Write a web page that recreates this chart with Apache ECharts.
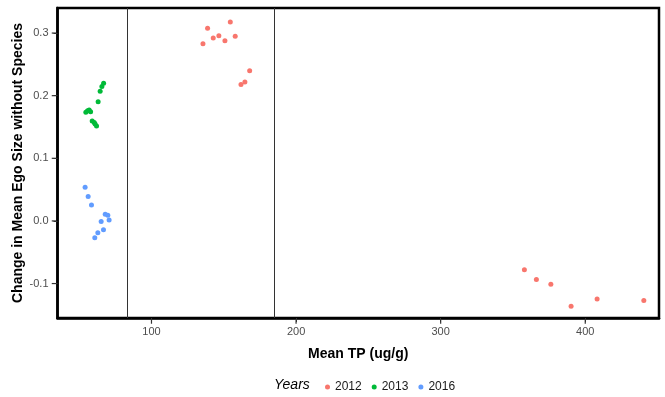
<!DOCTYPE html>
<html><head><meta charset="utf-8">
<script src="https://cdn.jsdelivr.net/npm/echarts@6/dist/echarts.min.js"></script>
<style>html,body{margin:0;padding:0;background:#fff}#c{width:665px;height:397px}</style>
</head><body><div id="c"></div>
<script>
const years = ['2012', '2013', '2016'];
const colors = ['#F8766D', '#00BA38', '#619CFF'];
const tp2012 = [135.6, 138.8, 142.7, 146.6, 150.8, 154.5, 157.9, 161.9, 164.6, 167.9, 357.9, 366.2, 376.2, 390.2, 408.2, 440.5];
const ego2012 = [0.283, 0.3076, 0.292, 0.2958, 0.2877, 0.3177, 0.2947, 0.2179, 0.2217, 0.240, -0.0778, -0.0934, -0.101, -0.1364, -0.1245, -0.1272];
const tp2013 = [54.6, 55.8, 56.9, 57.9, 59.0, 60.4, 61.0, 62.0, 63.1, 64.5, 65.7, 66.9];
const ego2013 = [0.1734, 0.176, 0.177, 0.1744, 0.1594, 0.157, 0.1546, 0.1514, 0.1905, 0.207, 0.2147, 0.220];
const tp2016 = [54.1, 56.2, 58.5, 68.0, 69.8, 70.7, 65.2, 66.8, 62.9, 60.8];
const ego2016 = [0.0536, 0.039, 0.0253, 0.0108, 0.0092, 0.0016, -0.001, -0.014, -0.019, -0.027];
const xTicks = [100, 200, 300, 400];
const yTicks = [-0.1, 0.0, 0.1, 0.2, 0.3];
const vLines = [83, 185];

const zip = (a, b) => a.map((v, i) => [v, b[i]]);
const seriesData = [zip(tp2012, ego2012), zip(tp2013, ego2013), zip(tp2016, ego2016)];

const chart = echarts.init(document.getElementById('c'), null, {renderer: 'canvas'});
const font = 'Liberation Sans, Arial, sans-serif';
const xMin = 35, xMax = 451, yMin = -0.155, yMax = 0.34;
const series = years.map((y, i) => ({
  name: y, type: 'scatter', symbolSize: 5, data: seriesData[i],
  itemStyle: {color: colors[i], opacity: 1}, z: 3
}));
series.push({
  type: 'line', data: [], silent: true,
  markLine: {
    silent: true, symbol: 'none', label: {show: false},
    lineStyle: {color: '#333', width: 1, type: 'solid'},
    data: vLines.map(v => ({xAxis: v}))
  }
});
// axis tick marks, placed by the chart's own scales (outside the panel)
series.push({
  type: 'scatter', silent: true, clip: false, z: 20, symbol: 'rect',
  symbolSize: [1.2, 4.5], symbolOffset: [0, 3.5],
  itemStyle: {color: '#333', opacity: 1},
  data: xTicks.map(v => [v, yMin])
});
series.push({
  type: 'scatter', silent: true, clip: false, z: 20, symbol: 'rect',
  symbolSize: [4.5, 1.2], symbolOffset: [-3.5, 0],
  itemStyle: {color: '#333', opacity: 1},
  data: yTicks.map(v => [xMin, v])
});
chart.setOption({
  animation: false,
  backgroundColor: '#fff',
  textStyle: {fontFamily: font},
  grid: {left: 57.5, right: 6, top: 8, bottom: 79, show: true, borderColor: '#000', borderWidth: 2.5,
    backgroundColor: '#fff', containLabel: false, outerBoundsMode: 'none'},
  xAxis: {
    type: 'value', min: xMin, max: xMax, splitNumber: 5,
    name: 'Mean TP (ug/g)', nameLocation: 'middle', nameGap: 29, nameMoveOverlap: false,
    nameTextStyle: {fontFamily: font, fontSize: 14, fontWeight: 'bold', color: '#000'},
    axisLine: {show: true, onZero: false, lineStyle: {color: '#000', width: 2.5}},
    axisTick: {show: true, interval: 0, length: 4, lineStyle: {color: '#333', width: 1}},
    axisLabel: {fontFamily: font, fontSize: 11, color: '#4D4D4D', margin: 8, interval: 0,
      showMinLabel: false, showMaxLabel: false},
    splitLine: {show: false}
  },
  yAxis: {
    type: 'value', min: yMin, max: yMax, splitNumber: 5,
    name: 'Change in Mean Ego Size without Species', nameLocation: 'middle', nameGap: 32, nameMoveOverlap: false,
    nameTextStyle: {fontFamily: font, fontSize: 14, fontWeight: 'bold', color: '#000'},
    axisLine: {show: true, onZero: false, lineStyle: {color: '#000', width: 2.5}},
    axisTick: {show: true, interval: 0, length: 4, lineStyle: {color: '#333', width: 1}},
    axisLabel: {fontFamily: font, fontSize: 11, color: '#4D4D4D', margin: 9, interval: 0,
      showMinLabel: false, showMaxLabel: false, formatter: v => v.toFixed(1)},
    splitLine: {show: false}
  },
  legend: {
    data: years, left: 320, top: 376, icon: 'circle', itemWidth: 5, itemHeight: 5, itemGap: 10,
    textStyle: {fontFamily: font, fontSize: 12, color: '#1a1a1a'}
  },
  graphic: [{type: 'text', left: 274, top: 378, style: {text: 'Years', fontFamily: font, fontSize: 14, fontStyle: 'italic', fill: '#000'}}],
  series
});
</script></body></html>
